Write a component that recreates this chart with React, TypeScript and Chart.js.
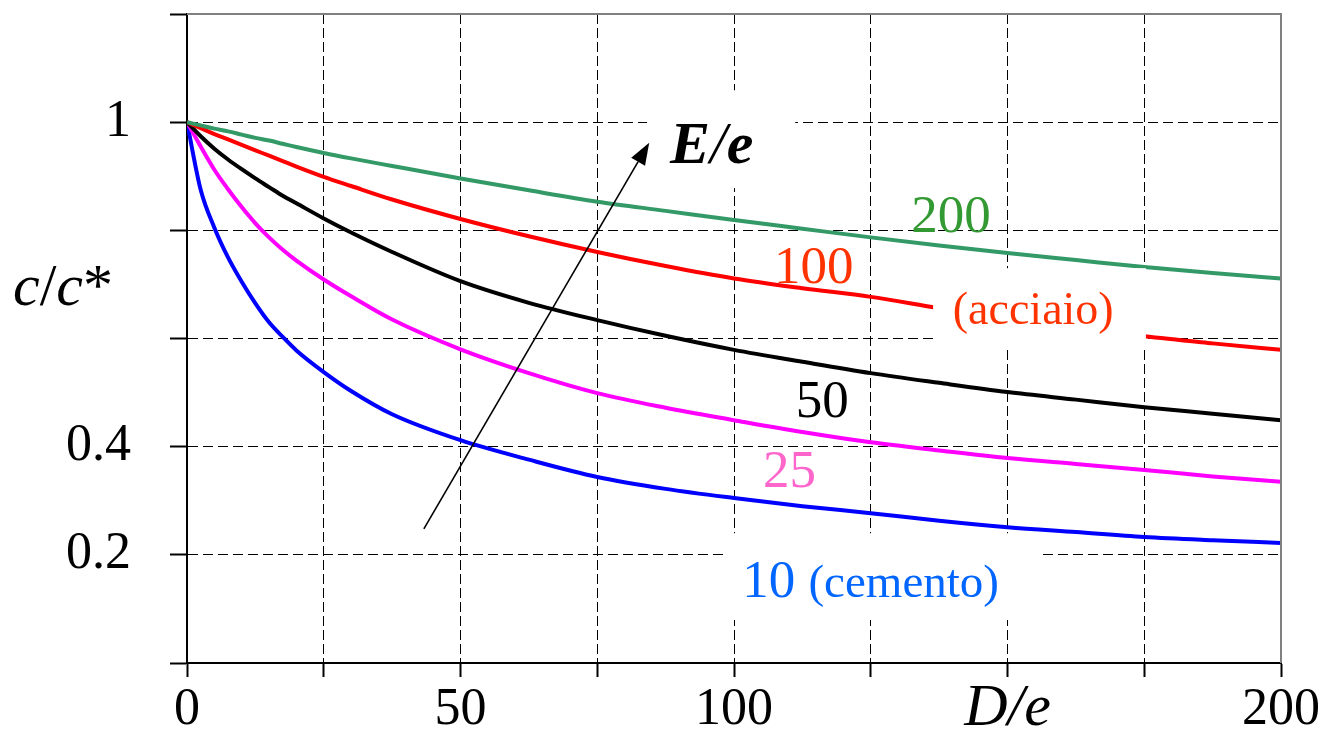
import React, { useEffect, useRef } from 'react';
import { Chart, registerables } from 'chart.js';

Chart.register(...registerables);

// ---------- data ----------
const xValues = [0, 2.5, 5, 7.5, 10, 12.5, 15, 17.5, 20, 25, 30, 37.5, 50, 62.5, 75, 87.5, 100, 112.5, 125, 137.5, 150, 162.5, 175, 187.5, 200];

const seriesE200 = [1.0, 0.994, 0.988, 0.983, 0.977, 0.971, 0.966, 0.96, 0.954, 0.943, 0.933, 0.919, 0.896, 0.874, 0.853, 0.836, 0.819, 0.803, 0.787, 0.772, 0.758, 0.745, 0.732, 0.721, 0.711];
const seriesE100 = [1.0, 0.989, 0.978, 0.968, 0.958, 0.948, 0.938, 0.928, 0.918, 0.899, 0.882, 0.857, 0.821, 0.789, 0.76, 0.734, 0.711, 0.693, 0.677, 0.656, 0.637, 0.62, 0.604, 0.591, 0.579];
const seriesE50 = [1.0, 0.974, 0.951, 0.931, 0.913, 0.896, 0.88, 0.864, 0.85, 0.822, 0.796, 0.76, 0.706, 0.666, 0.634, 0.605, 0.579, 0.557, 0.536, 0.518, 0.501, 0.487, 0.473, 0.461, 0.449];
const seriesE25 = [1.0, 0.955, 0.912, 0.876, 0.843, 0.813, 0.787, 0.764, 0.744, 0.709, 0.678, 0.635, 0.58, 0.536, 0.499, 0.472, 0.449, 0.427, 0.408, 0.393, 0.379, 0.368, 0.357, 0.345, 0.335];
const seriesE10 = [1.0, 0.875, 0.805, 0.75, 0.705, 0.665, 0.63, 0.603, 0.578, 0.538, 0.503, 0.46, 0.412, 0.376, 0.344, 0.322, 0.305, 0.29, 0.277, 0.263, 0.251, 0.242, 0.233, 0.227, 0.222];

const xLabeledTicks = [0, 50, 100, 150, 200];
const xTickTexts = ['0', '50', '100', 'D/e', '200'];
const yLabeledTicks = [0.2, 0.4, 1];
const yTickTexts = ['0.2', '0.4', '1'];

// ---------- styling / annotations ----------
const FONT = '"Liberation Serif", "Times New Roman", Times, serif';

const seriesDefs = [
  { data: seriesE200, color: '#339966' },
  { data: seriesE100, color: '#ff0000' },
  { data: seriesE50, color: '#000000' },
  { data: seriesE25, color: '#ff00ff' },
  { data: seriesE10, color: '#0000ff' },
];

// white boxes behind annotation texts (data coordinates)
const maskBoxes = [
  { x0: 84.1, x1: 111.2, y0: 0.878, y1: 1.059 },
  { x0: 136.4, x1: 175.3, y0: 0.582, y1: 0.730 },
  { x0: 98.4, x1: 155.9, y0: 0.0795, y1: 0.240 },
];

type Run = { text: string; size: number; color: string; style?: string; weight?: string };
const textLabels: { x: number; y: number; runs: Run[] }[] = [
  { x: 132.4, y: 0.797, runs: [{ text: '200', size: 53, color: '#339933' }] },
  { x: 107.3, y: 0.703, runs: [{ text: '100', size: 53, color: '#ff3300' }] },
  { x: 140.0, y: 0.626, runs: [{ text: '(acciaio)', size: 46, color: '#ff3300' }] },
  { x: 111.3, y: 0.455, runs: [{ text: '50', size: 53, color: '#000000' }] },
  { x: 105.3, y: 0.325, runs: [{ text: '25', size: 53, color: '#ff66cc' }] },
  {
    x: 101.5, y: 0.122, runs: [
      { text: '10 ', size: 53, color: '#0066ff' },
      { text: '(cemento)', size: 47, color: '#0066ff' },
    ],
  },
  {
    x: 88.3, y: 0.925, runs: [
      { text: 'E', size: 60, color: '#000', style: 'italic', weight: 'bold' },
      { text: '/', size: 60, color: '#000', style: 'italic' },
      { text: 'e', size: 60, color: '#000', style: 'italic', weight: 'bold' },
    ],
  },
];

const arrow = { x0: 43.3, y0: 0.248, x1: 84.5, y1: 0.962 };

const yTitle = {
  offsetLeft: 174, y: 0.662, runs: [
    { text: 'c', size: 60, color: '#000', style: 'italic' },
    { text: '/', size: 60, color: '#000' },
    { text: 'c', size: 60, color: '#000', style: 'italic' },
    { text: '*', size: 60, color: '#000' },
  ] as Run[],
};

const near = (a: number, b: number) => Math.abs(a - b) < 1e-6;

function drawRuns(ctx: CanvasRenderingContext2D, x: number, y: number, runs: Run[]) {
  let cx = x;
  ctx.textAlign = 'left';
  ctx.textBaseline = 'alphabetic';
  for (const r of runs) {
    ctx.font = `${r.style || 'normal'} ${r.weight || 'normal'} ${r.size}px ${FONT}`;
    ctx.fillStyle = r.color;
    ctx.fillText(r.text, cx, y);
    cx += ctx.measureText(r.text).width;
  }
}

const overlayPlugin = {
  id: 'overlay',
  afterDatasetsDraw(chart: any) {
    const { ctx, chartArea, scales } = chart;
    const xs = scales.x;
    const ys = scales.y;
    const px = (v: number) => xs.getPixelForValue(v);
    const py = (v: number) => ys.getPixelForValue(v);
    ctx.save();
    ctx.fillStyle = '#ffffff';
    for (const m of maskBoxes) {
      const x1 = px(m.x0), x2 = px(m.x1), y1 = py(m.y1), y2 = py(m.y0);
      ctx.fillRect(x1, y1, x2 - x1, y2 - y1);
    }
    // top & right frame
    ctx.strokeStyle = '#808080';
    ctx.lineWidth = 2;
    ctx.beginPath();
    ctx.moveTo(chartArea.left, chartArea.top);
    ctx.lineTo(chartArea.right, chartArea.top);
    ctx.lineTo(chartArea.right, chartArea.bottom);
    ctx.stroke();

    for (const l of textLabels) drawRuns(ctx, px(l.x), py(l.y), l.runs);

    // arrow
    const ax0 = px(arrow.x0), ay0 = py(arrow.y0), ax1 = px(arrow.x1), ay1 = py(arrow.y1);
    const ang = Math.atan2(ay1 - ay0, ax1 - ax0);
    const headLen = 22, headHalf = 8;
    const bx = ax1 - headLen * Math.cos(ang), by = ay1 - headLen * Math.sin(ang);
    ctx.strokeStyle = '#000';
    ctx.lineWidth = 1.6;
    ctx.beginPath();
    ctx.moveTo(ax0, ay0);
    ctx.lineTo(bx, by);
    ctx.stroke();
    ctx.fillStyle = '#000';
    ctx.beginPath();
    ctx.moveTo(ax1, ay1);
    ctx.lineTo(bx + headHalf * Math.sin(ang), by - headHalf * Math.cos(ang));
    ctx.lineTo(bx - headHalf * Math.sin(ang), by + headHalf * Math.cos(ang));
    ctx.closePath();
    ctx.fill();

    // y-axis title
    drawRuns(ctx, chartArea.left - yTitle.offsetLeft, py(yTitle.y), yTitle.runs);
    ctx.restore();
  },
};

export default function App() {
  const canvasRef = useRef<HTMLCanvasElement | null>(null);

  useEffect(() => {
    document.body.style.margin = '0';
    const canvas = canvasRef.current;
    if (!canvas) return;
    const chart = new Chart(canvas, {
      type: 'line',
      data: {
        datasets: seriesDefs.map((s) => ({
          data: xValues.map((x, i) => ({ x, y: s.data[i] })),
          borderColor: s.color,
          backgroundColor: s.color,
          borderWidth: 4,
          pointRadius: 0,
          cubicInterpolationMode: 'monotone' as const,
          fill: false,
          borderJoinStyle: 'round' as const,
        })),
      },
      options: {
        responsive: false,
        animation: false,
        events: [],
        devicePixelRatio: 1,
        layout: { padding: { top: 14, right: 48, left: 0, bottom: 0 } },
        plugins: { legend: { display: false }, tooltip: { enabled: false } },
        scales: {
          x: {
            type: 'linear',
            min: 0,
            max: 200,
            afterFit: (s: any) => {
              s.height = 71;
              s.paddingLeft = 0; s.paddingRight = 0; s.paddingTop = 0; s.paddingBottom = 0;
            },
            ticks: {
              stepSize: 25,
              autoSkip: false,
              maxRotation: 0,
              padding: 2,
              color: '#000',
              font: (c: any) => {
                const v = c.tick ? c.tick.value : 0;
                return near(v, 150)
                  ? { family: FONT, size: 60, style: 'italic', lineHeight: 1.0 }
                  : { family: FONT, size: 52, lineHeight: 1.2 };
              },
              callback: (v: any) => {
                const i = xLabeledTicks.findIndex((t) => near(t, Number(v)));
                return i >= 0 ? xTickTexts[i] : '';
              },
            },
            grid: {
              color: (c: any) => {
                const v = c.tick ? c.tick.value : 0;
                return near(v, 0) || near(v, 200) ? 'rgba(0,0,0,0)' : '#000';
              },
              lineWidth: 1,
              tickLength: 14,
              tickColor: '#000',
              tickWidth: 2,
            },
            border: { display: true, color: '#000', width: 2, dash: [10, 4] },
          },
          y: {
            type: 'linear',
            min: 0,
            max: 1.2,
            afterFit: (s: any) => {
              s.width = 187;
              s.paddingLeft = 0; s.paddingRight = 0; s.paddingTop = 0; s.paddingBottom = 0;
            },
            ticks: {
              stepSize: 0.2,
              autoSkip: false,
              padding: 39,
              color: '#000',
              font: { family: FONT, size: 52 },
              callback: (v: any) => {
                const i = yLabeledTicks.findIndex((t) => near(t, Number(v)));
                return i >= 0 ? yTickTexts[i] : '';
              },
            },
            grid: {
              color: (c: any) => {
                const v = c.tick ? c.tick.value : 0;
                return near(v, 0) || near(v, 1.2) ? 'rgba(0,0,0,0)' : '#000';
              },
              lineWidth: 1,
              tickLength: 17,
              tickColor: '#000',
              tickWidth: 2,
            },
            border: { display: true, color: '#000', width: 2, dash: [10, 5] },
          },
        },
      } as any,
      plugins: [overlayPlugin],
    });
    return () => chart.destroy();
  }, []);

  return (
    <div style={{ width: 1329, height: 734, overflow: 'hidden', background: '#fff' }}>
      <canvas ref={canvasRef} width={1329} height={734} style={{ display: 'block' }} />
    </div>
  );
}
